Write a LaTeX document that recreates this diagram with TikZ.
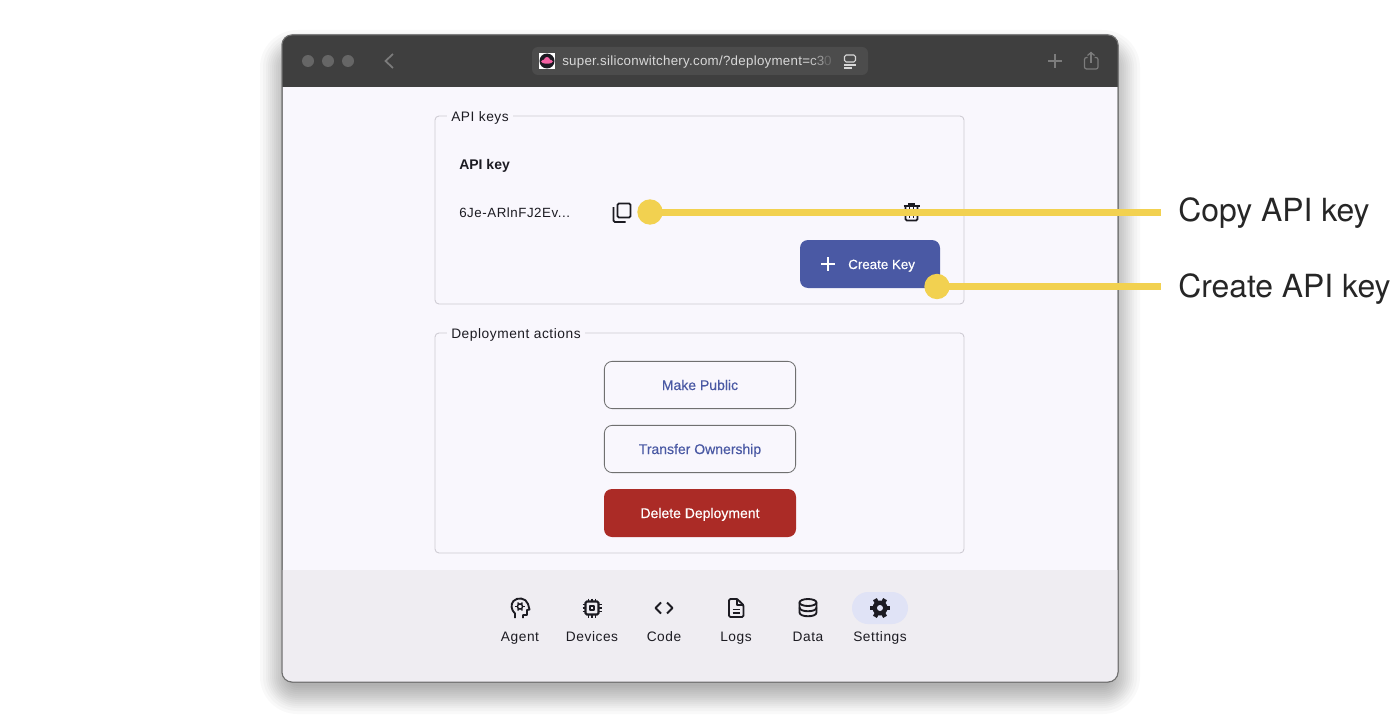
\documentclass[tikz,border=0pt]{standalone}
\usepackage{fontspec}
\setmainfont{Liberation Sans}
\newfontfamily\uifont[LetterSpace=4]{Liberation Sans}
\newfontfamily\urlfont[LetterSpace=2]{Liberation Sans}
\newfontfamily\btnfont[FakeBold=.35]{Liberation Sans}
\newfontfamily\calloutfont{TeX Gyre Heros}
\definecolor{barcol}{HTML}{3F3F3F}
\definecolor{pagecol}{HTML}{F9F7FD}
\definecolor{navcol}{HTML}{EFEDF2}
\definecolor{edgecol}{HTML}{707070}
\definecolor{panelcol}{HTML}{CDCAD2}
\definecolor{inkcol}{HTML}{1C1B22}
\definecolor{bluecol}{HTML}{4A59A4}
\definecolor{redcol}{HTML}{AB2B26}
\definecolor{markcol}{HTML}{F2D150}
\definecolor{pillcol}{HTML}{E0E3F6}
\definecolor{urlcol}{HTML}{4C4C4C}
\definecolor{urltext}{HTML}{D8D8D8}
\definecolor{dimcol}{HTML}{7C7C7C}
\tikzset{
	panel/.style={draw=panelcol,line width=.65pt,rounded corners=3pt,inner sep=0,outer sep=0,minimum width=396.75pt},
	legend/.style={fill=pagecol,anchor=base west,inner xsep=3pt,inner ysep=2pt,font=\uifont\fontsize{10.3pt}{12pt}\selectfont,text=inkcol},
	ghost/.style={draw=edgecol,fill=pagecol,line width=.65pt,rounded corners=6pt,inner sep=0,outer sep=0,minimum width=143.5pt,minimum height=35.5pt},
	solid/.style={rounded corners=6pt,inner sep=0,outer sep=0,minimum height=36pt},
	btntext/.style={anchor=base,inner sep=0,font=\btnfont\fontsize{10.5pt}{12pt}\selectfont},
	navlabel/.style={anchor=base,text=inkcol,inner sep=0,font=\uifont\fontsize{10.3pt}{12pt}\selectfont},
	bodytext/.style={anchor=base west,inner sep=0,text=inkcol,font=\uifont\fontsize{10pt}{12pt}\selectfont},
	icon/.style={draw=inkcol,line width=1.4pt,line join=round},
	marker/.style={circle,fill=markcol,inner sep=0,outer sep=0,minimum size=19pt},
	callout/.style={draw=markcol,line width=5.25pt,shorten <=-2pt},
	calloutlabel/.style={anchor=base west,inner sep=0,font=\calloutfont\fontsize{23.9pt}{30pt}\selectfont,text=black!85}
}
\begin{document}
\begin{tikzpicture}[x=.75pt,y=-.75pt]
	\useasboundingbox (0,0) rectangle (1400,724);
	\fill[white] (0,0) rectangle (1400,724);
	\foreach \e in {22,19,16,14,12,10,8,6,4,2,0,-2,-4,-6}
		\fill[black,opacity=.022,rounded corners=(10+\e)*.75pt+4pt] (282-\e,52-\e) rectangle (1118+\e,692+\e);
	\node[draw=edgecol,fill=pagecol,line width=.75pt,rounded corners=7.5pt,inner sep=0,outer sep=0,minimum width=627pt,minimum height=485.25pt] (window) at (700,358.5) {};
	\begin{scope}
		\clip[rounded corners=7.5pt] (282,35) rectangle (1118,682);
		\fill[barcol] (282,35) rectangle (1118,87);
		\fill[navcol] (282,570) rectangle (1118,682);
	\end{scope}
	\draw[edgecol,line width=.75pt,rounded corners=7.5pt] (282,35) rectangle (1118,682);
	\foreach \x in {308,328,348}
		\fill[gray!80!black] (\x,61) circle[radius=6];
	\draw[dimcol,line width=1.3pt] (393,54) -- (385.5,61) -- (393,68);
	\node[fill=urlcol,rounded corners=4.5pt,inner sep=0,minimum width=252pt,minimum height=21pt] (urlbar) at (700,61) {};
	\fill[white] (539,53) rectangle (555,69);
	\fill[inkcol] (547,61) circle[radius=7.5];
	\fill[magenta!50!pink] (547,61.5) ellipse[x radius=6,y radius=2.2];
	\fill[magenta!50!pink] (547,60) ellipse[x radius=3,y radius=3];
	\node[anchor=base west,inner sep=0,font=\urlfont\fontsize{10pt}{12pt}\selectfont,text=urltext] (urltxt) at (562,66) {super.siliconwitchery.com/?deployment=\textcolor{urltext!85!urlcol}{c}\textcolor{urltext!55!urlcol}{3}\textcolor{urltext!25!urlcol}{0}};
	\draw[urltext,line width=.8pt,rounded corners=1.2pt] (844.5,55) rectangle (855.5,62);
	\draw[urltext,line width=.8pt] (844,65) -- (856,65);
	\draw[urltext,line width=.8pt] (844,68) -- (852,68);
	\draw[dimcol,line width=.9pt] (1048,61) -- (1062,61);
	\draw[dimcol,line width=.9pt] (1055,54) -- (1055,68);
	\draw[dimcol,line width=.9pt,rounded corners=1.5pt] (1087.5,57.5) -- (1084.5,57.5) -- (1084.5,69) -- (1098,69) -- (1098,57.5) -- (1094.5,57.5);
	\draw[dimcol,line width=.9pt] (1091,63) -- (1091,52.5);
	\draw[dimcol,line width=.9pt] (1087.5,55.5) -- (1091,52.5) -- (1094.5,55.5);

	\node[panel,minimum height=141pt] (apipanel) at (699.5,210) {};
	\node[legend] (apilegend) at (447,121.5) {API keys};
	\node[bodytext,font=\bfseries\fontsize{10.5pt}{12pt}\selectfont] (apihead) at (459,169) {API key};
	\node[bodytext] (apivalue) at (459,217) {6Je-ARlnFJ2Ev...};
	\draw[icon,line width=1.4pt,rounded corners=1pt] (617.5,203.5) rectangle (630.5,217.5);
	\draw[icon,line width=1.4pt,rounded corners=1pt] (613.5,207) -- (613.5,222) -- (625.5,222);
	\draw[icon,rounded corners=1pt] (905.5,207) -- (905.5,220.5) -- (917.5,220.5) -- (917.5,207);
	\draw[icon,line width=1.2pt] (903.5,206) -- (919.5,206);
	\draw[icon,line width=1.2pt] (908,204) -- (915,204);
	\foreach \x in {909.5,913.5}
		\draw[icon,line width=.9pt] (\x,207) -- (\x,218);
	\node[solid,fill=bluecol,minimum width=105pt] (createkey) at (870,264) {};
	\draw[white,line width=1.3pt] (821,264) -- (835,264);
	\draw[white,line width=1.3pt] (828,257) -- (828,271);
	\node[btntext,anchor=base west,text=white,font=\btnfont\fontsize{10pt}{12pt}\selectfont] (createtxt) at (848,269) {Create Key};

	\node[panel,minimum height=165pt] (deploypanel) at (699.5,443) {};
	\node[legend] (deploylegend) at (447,338) {Deployment actions};
	\node[ghost] (public) at (700,385) {};
	\node[ghost] (transfer) at (700,449) {};
	\node[solid,fill=redcol,minimum width=144pt] (delete) at (700,513) {};
	\node[btntext,text=bluecol] (publictxt) at (700,390) {Make Public};
	\node[btntext,text=bluecol] (transfertxt) at (700,454) {Transfer Ownership};
	\node[btntext,text=white] (deletetxt) at (700,518) {Delete Deployment};

	\node[fill=pillcol,rounded corners=12pt,inner sep=0,minimum width=42pt,minimum height=24pt] (settingspill) at (880,608) {};
	\node[navlabel] (agent) at (520,641) {Agent};
	\node[navlabel] (devices) at (592,641) {Devices};
	\node[navlabel] (code) at (664,641) {Code};
	\node[navlabel] (logs) at (736,641) {Logs};
	\node[navlabel] (data) at (808,641) {Data};
	\node[navlabel] (settings) at (880,641) {Settings};

	\draw[icon,line width=1.4pt] (515,618) -- (515,613.5) .. controls (511,610) and (510.5,604) .. (513.5,601) .. controls (517,597) and (526,597.5) .. (528,604) -- (529.5,609.5) -- (527,610) -- (527,615) -- (523,615) -- (523,618);
	\draw[inkcol,line width=1.1pt] (520,606.5) circle[radius=2.6];
	\foreach \a in {0,60,...,300}
		\draw[inkcol,line width=1pt] (520,606.5) ++(\a:3) -- ++(\a:1.6);
	\draw[icon,line width=1.6pt,rounded corners=1pt] (585.5,601.5) rectangle (598.5,614.5);
	\draw[icon,line width=1.4pt] (590,606) rectangle (594,610);
	\foreach \t in {588.5,592,595.5} {
		\draw[icon,line width=1pt] (\t,598.5) -- (\t,601.5);
		\draw[icon,line width=1pt] (\t,614.5) -- (\t,617.5);
	}
	\foreach \t in {604.5,608,611.5} {
		\draw[icon,line width=1pt] (582.5,\t) -- (585.5,\t);
		\draw[icon,line width=1pt] (598.5,\t) -- (601.5,\t);
	}
	\draw[icon] (661,602.5) -- (655.5,608) -- (661,613.5);
	\draw[icon] (667,602.5) -- (672.5,608) -- (667,613.5);
	\draw[icon,rounded corners=1pt] (737,599) -- (729,599) -- (729,617) -- (743.5,617) -- (743.5,605) -- (737,599);
	\draw[icon,line width=1.1pt] (737,599) -- (737,605) -- (743.5,605);
	\draw[icon,line width=1.1pt] (732.5,609.5) -- (740,609.5);
	\draw[icon,line width=1.1pt] (732.5,613) -- (740,613);
	\draw[icon] (808,602.5) ellipse[x radius=8.5,y radius=3.5];
	\draw[icon] (799.5,602.5) -- (799.5,612.5) .. controls (799.5,617.5) and (816.5,617.5) .. (816.5,612.5) -- (816.5,602.5);
	\draw[icon] (799.5,607.5) .. controls (799.5,612.5) and (816.5,612.5) .. (816.5,607.5);
	\fill[inkcol] (880,608) circle[radius=7.5];
	\foreach \a in {30,90,...,330}
		\fill[inkcol,rotate around={\a:(880,608)}] (877.8,597.8) rectangle (882.2,603);
	\fill[pillcol] (880,608) circle[radius=3];

	\node[marker] (copydot) at (650,212) {};
	\node[marker] (createdot) at (937,286.5) {};
	\node[calloutlabel] (copylabel) at (1178,221) {Copy API key};
	\node[calloutlabel] (createlabel) at (1178,297) {Create API key};
	\coordinate (copyend) at (1161,212);
	\coordinate (createend) at (1161,286.5);
	\draw[callout] (copydot) -- (copyend);
	\draw[callout] (createdot) -- (createend);
\end{tikzpicture}
\end{document}
